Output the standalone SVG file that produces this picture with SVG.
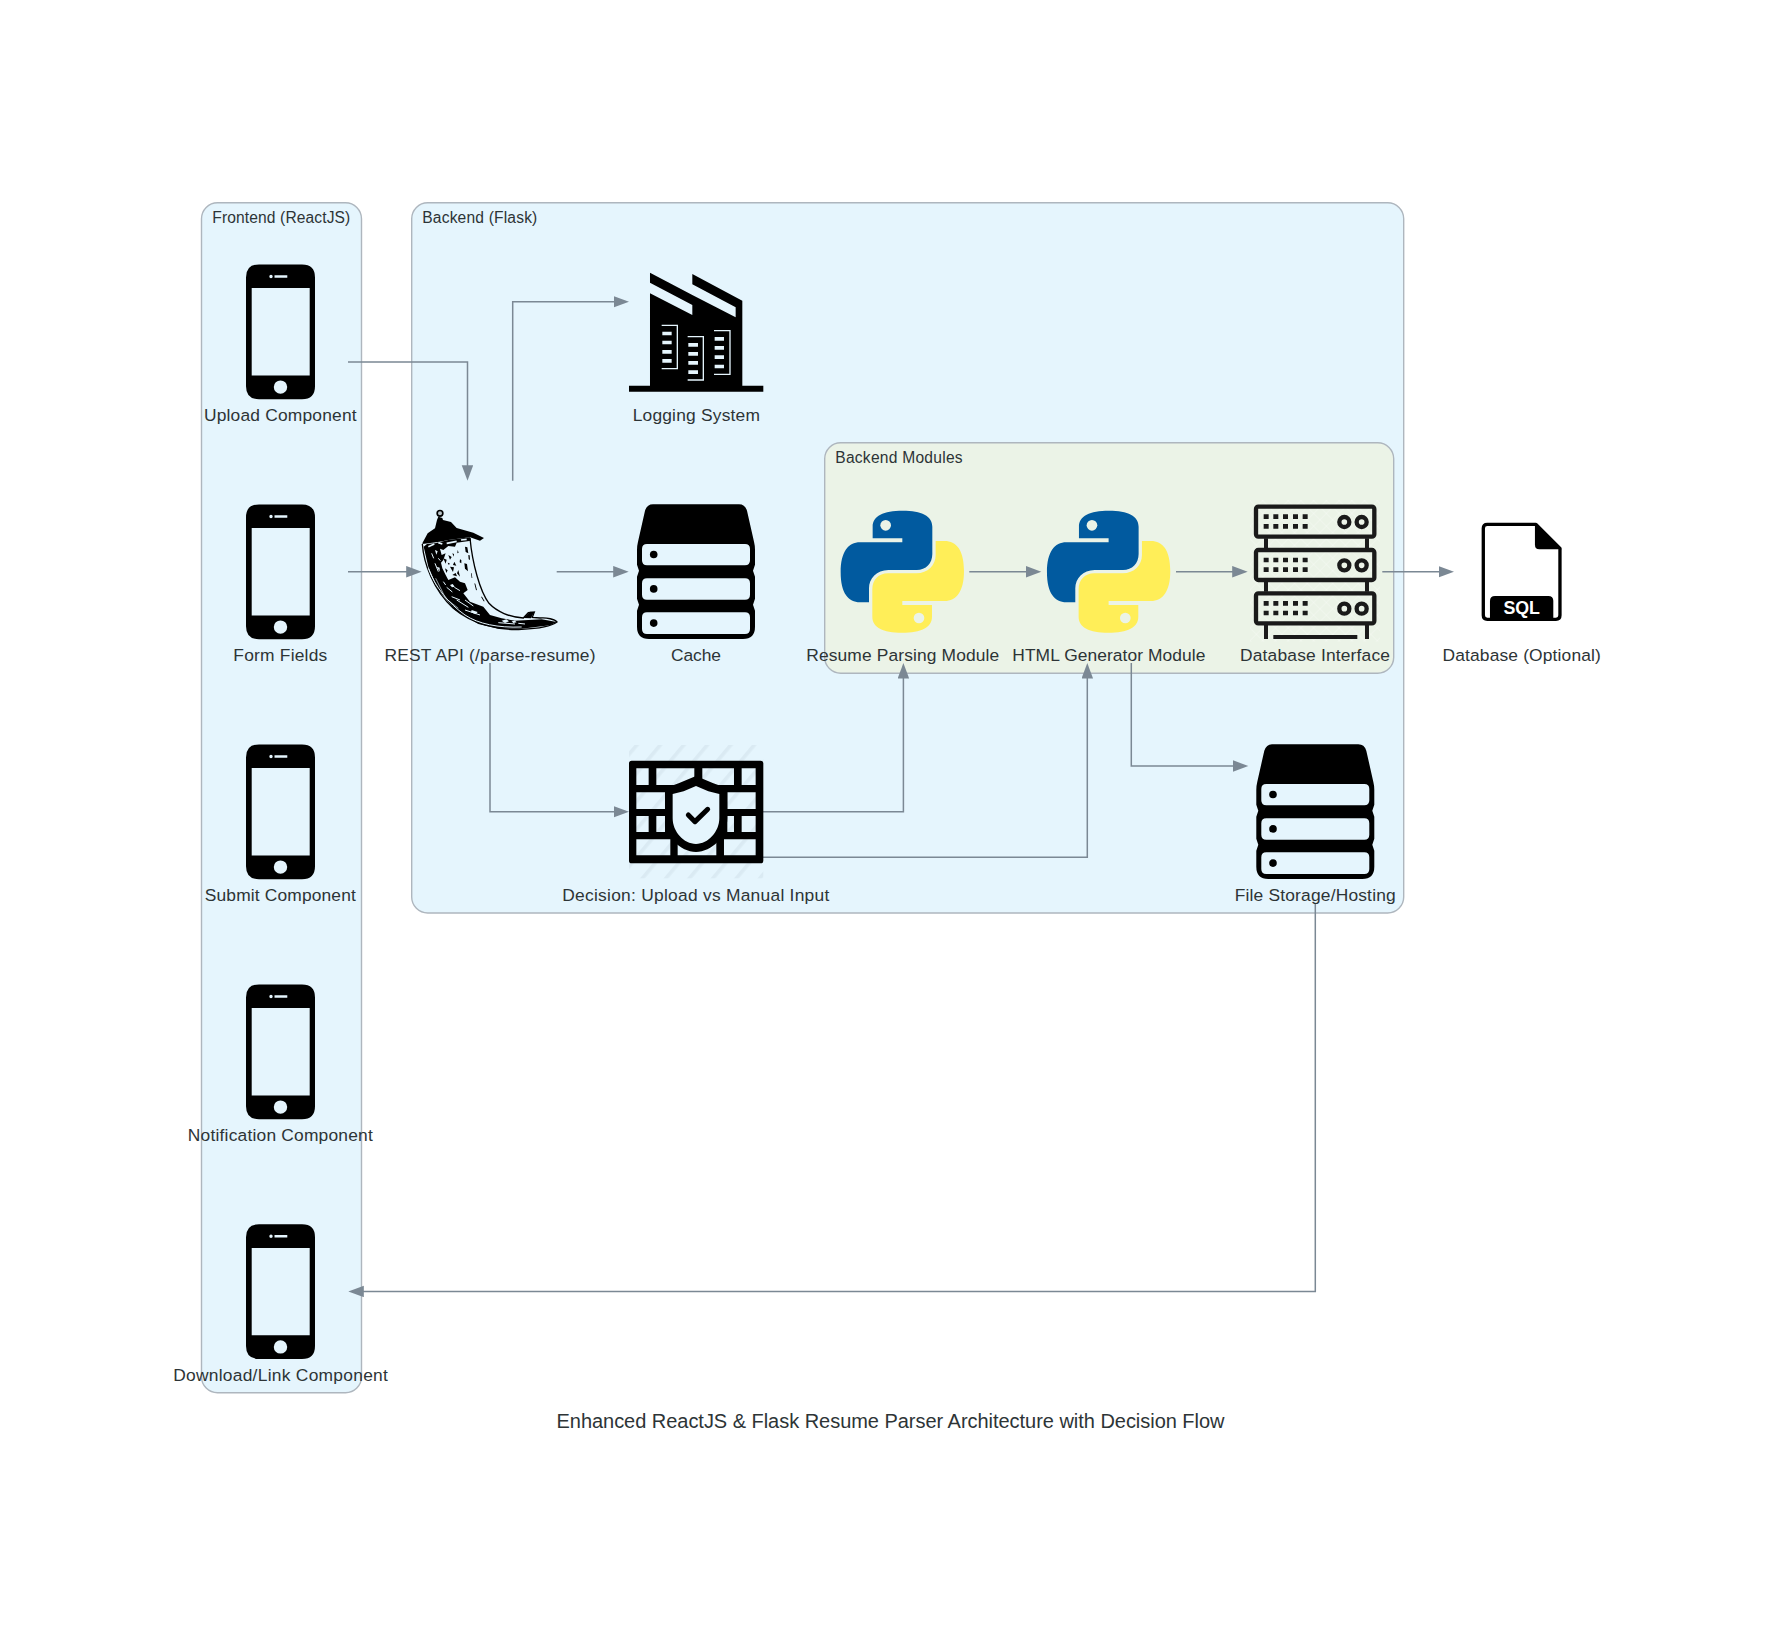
<svg xmlns="http://www.w3.org/2000/svg" width="1781" height="1628" viewBox="0 0 1781 1628">
<style>
text{font-family:"Liberation Sans",Arial,sans-serif;fill:#2d3436}
.lbl{font-size:17.4px;text-anchor:middle}
.cl{font-size:15.6px}
.title{font-size:20px;text-anchor:middle}
.cluster{stroke:#aeb6be;stroke-width:1.4}
.edge{fill:none;stroke:#7b8894;stroke-width:1.5;marker-end:url(#arr)}
.k{fill:#000}
.blue{fill:#015a9f}
.yel{fill:#ffee58}
.d{fill:#1a1a1a}
.rk{fill:none;stroke:#1a1a1a;stroke-width:13}
.fl{fill:#e5f5fd}
</style>
<defs>
<marker id="arr" markerUnits="userSpaceOnUse" markerWidth="17" markerHeight="12" refX="1.5" refY="5.75" orient="auto"><path d="M0,0L15.5,5.75L0,11.5Z" fill="#7b8894"/></marker>
<pattern id="hatch" patternUnits="userSpaceOnUse" width="54" height="54" patternTransform="rotate(40)"><rect width="11" height="54" fill="#c6d6de" opacity=".35"/></pattern>
<pattern id="cross" patternUnits="userSpaceOnUse" width="27" height="27" patternTransform="rotate(45)"><path d="M0,0H27M0,0V27" stroke="#fff" stroke-width="3" opacity=".45" fill="none"/></pattern>
<g id="phone"><path fill-rule="evenodd" class="k" d="M-21.5,-67.4H21.5Q34.5,-67.4 34.5,-54.4V54.4Q34.5,67.4 21.5,67.4H-21.5Q-34.5,67.4 -34.5,54.4V-54.4Q-34.5,-67.4 -21.5,-67.4ZM-28.8,-43.7V43.7H29.2V-43.7ZM-11.2,-55.3a1.7,1.7 0 1 0 3.4,0a1.7,1.7 0 1 0 -3.4,0ZM-6,-56.6V-54H6.8V-56.6ZM-6.7,55.3a6.7,6.7 0 1 0 13.4,0a6.7,6.7 0 1 0 -13.4,0Z"/></g>
<g id="stack"><path fill-rule="evenodd" class="k" d="M-43,-67.4H43Q49,-67.4 51,-61L58,-30Q59,-26 59,-22V-7L57,-1L59,5V27L57,33L59,39V55Q59,67.3 47,67.3H-47Q-59,67.3 -59,55V39L-57,33L-59,27V5L-57,-1L-59,-7V-22Q-59,-26 -58,-30L-51,-61Q-49,-67.4 -43,-67.4ZM-49,-27.7Q-54,-27.7 -54,-22.7V-11.4Q-54,-6.4 -49,-6.4H49Q54,-6.4 54,-11.4V-22.7Q54,-27.7 49,-27.7ZM-49,6.6Q-54,6.6 -54,11.6V23Q-54,28 -49,28H49Q54,28 54,23V11.6Q54,6.6 49,6.6ZM-49,40.6Q-54,40.6 -54,45.6V57.3Q-54,62.3 -49,62.3H49Q54,62.3 54,57.3V45.6Q54,40.6 49,40.6Z"/><circle class="k" cx="-42.3" cy="-17.2" r="3.8"/><circle class="k" cx="-42.3" cy="17.2" r="3.8"/><circle class="k" cx="-42.3" cy="51.4" r="3.8"/></g>
<g id="py"><path class="blue" d="M308,242C250,242 218,258 218,290V325H307V337H180C145,337 122,365 122,427C122,490 145,517 180,517H207V475C207,445 230,420 265,420H350C378,420 397,400 397,372V290C397,258 365,242 308,242Z"/><circle cx="257" cy="286" r="16" fill="#ebf3e7"/><path class="yel" transform="rotate(180 307 425)" d="M308,242C250,242 218,258 218,290V325H307V337H180C145,337 122,365 122,427C122,490 145,517 180,517H207V475C207,445 230,420 265,420H350C378,420 397,400 397,372V290C397,258 365,242 308,242Z"/><circle cx="357" cy="564" r="16" fill="#ebf3e7"/></g>
<g id="rack"><rect class="rk" x="18" y="20" width="355" height="90" rx="7"/><path class="d" d="M41,43h15v14h-15zM70,43h15v14h-15zM99,43h15v14h-15zM129,43h15v14h-15zM158,43h15v14h-15zM41,72h15v14h-15zM70,72h15v14h-15zM99,72h15v14h-15zM129,72h15v14h-15zM158,72h15v14h-15z"/><circle cx="283" cy="66" r="15" fill="none" stroke="#1a1a1a" stroke-width="13"/><circle cx="335" cy="66" r="15" fill="none" stroke="#1a1a1a" stroke-width="13"/></g>
</defs>
<rect width="1781" height="1628" fill="#fff"/>
<g id="cluster-frontend"><rect class="cluster" x="201.5" y="202.7" width="160" height="1190" rx="16" fill="#e5f5fd"/><text class="cl" x="212.3" y="222.5" textLength="138">Frontend (ReactJS)</text></g>
<g id="cluster-backend"><rect class="cluster" x="411.7" y="202.7" width="992" height="710.3" rx="16" fill="#e5f5fd"/><text class="cl" x="422.3" y="222.5" textLength="115">Backend (Flask)</text></g>
<g id="cluster-modules"><rect class="cluster" x="824.7" y="442.7" width="569" height="230.6" rx="16" fill="#ebf3e7"/><text class="cl" x="835.3" y="462.5" textLength="127.3">Backend Modules</text></g>
<g id="connectors">
<path class="edge" d="M348,362H467.5V466.7"/>
<path class="edge" d="M512.7,480.7V301.7H615"/>
<path class="edge" d="M348,571.7H407.7"/>
<path class="edge" d="M556.7,571.7H614.7"/>
<path class="edge" d="M490,663V811.7H615"/>
<path class="edge" d="M763,811.7H903.4V677"/>
<path class="edge" d="M763,857.3H1087.3V677"/>
<path class="edge" d="M969.3,571.7H1027.3"/>
<path class="edge" d="M1176,571.7H1233.7"/>
<path class="edge" d="M1382.3,571.7H1440"/>
<path class="edge" d="M1131.3,663V766H1234.3"/>
<path class="edge" d="M1315.3,903V1291.4H362.3"/>
</g>
<g id="node-upload"><use href="#phone" x="280.5" y="331.8"/><text class="lbl" x="280.3" y="420.6" textLength="152.7">Upload Component</text></g>
<g id="node-form"><use href="#phone" x="280.5" y="571.8"/><text class="lbl" x="280.3" y="660.6" textLength="94">Form Fields</text></g>
<g id="node-submit"><use href="#phone" x="280.5" y="811.8"/><text class="lbl" x="280.3" y="900.6" textLength="151">Submit Component</text></g>
<g id="node-notify"><use href="#phone" x="280.5" y="1051.8"/><text class="lbl" x="280.3" y="1140.6" textLength="185">Notification Component</text></g>
<g id="node-download"><use href="#phone" x="280.5" y="1291.6"/><text class="lbl" x="280.5" y="1380.6" textLength="214.7">Download/Link Component</text></g>
<g id="node-api">
<g transform="translate(415 500) scale(.3333)">
<path class="k" d="M66,60L70,50L82,54L84,60L108,66L125,84L175,98L207,114L195,122L165,112L100,120L45,132L28,144L22,130L38,100L60,85Z"/>
<circle cx="75" cy="40" r="8.5" fill="#b9c4c8" stroke="#000" stroke-width="5"/>
<path d="M22,132C26,190 55,270 115,325C170,372 250,392 320,388C370,386 410,378 426,366C420,358 395,352 375,354L352,352L358,336L340,338L325,354C285,352 245,335 222,310C195,275 172,190 165,114" class="fl" stroke="#000" stroke-width="4"/>
<path class="k" d="M26,140L36,132L60,130L100,120L165,112L168,122L125,128L120,140L100,138L85,150L75,146L80,165L92,160L85,180L78,188L82,205L92,225L100,240L120,232L135,245L150,250L158,270L145,280L165,305L205,320L225,345L260,355L300,362L380,358L425,366L405,376L320,386L250,386L190,372L120,330L70,270L40,200Z"/>
<path d="M40,205C60,260 100,310 150,345C190,372 250,384 320,381" fill="none" stroke="#e5f5fd" stroke-width="3"/>
<path d="M62,235L92,295L130,325" fill="none" stroke="#e5f5fd" stroke-width="2"/>
<path d="M40,140L58,132M70,128L82,132M95,130L125,124M138,120L155,118" fill="none" stroke="#e5f5fd" stroke-width="5"/>
<path d="M50,160L56,175M60,190L70,215M125,300L160,322M150,330L195,345M250,368L300,372M310,370L330,372M110,290L135,300M70,175L76,182M95,262L112,276M118,262L135,272M150,300L175,318M85,245L92,255" fill="none" stroke="#e5f5fd" stroke-width="3"/>
<path class="fl" d="M260,362l14,-4l8,6l-12,5zM290,364l10,-2l5,5l-10,2zM170,330l18,6l-6,7l-14,-6zM60,150l8,4l-4,10zM65,200l9,3l0,12zM105,255l8,-3l6,8l-8,2z"/>
<path class="k" d="M100,165l5,14l5,-8zM85,175l10,4l-3,12zM118,185l6,12l-10,-2zM105,200l12,2l-3,14zM90,205l8,6l-4,8zM130,210l5,20l-9,-10zM150,140l7,2l3,18l-8,-4zM148,190l8,2l3,22l-9,-8zM128,150l3,8l-4,2zM160,165l4,1l1,14l-4,-2zM112,225l10,-6l4,10zM178,250l3,1l5,20l-3,-1zM198,290l3,0l8,14l-3,0zM168,220l2,0l2,14l-2,0zM112,160l5,2l-1,8zM135,178l4,2l0,10l-5,-3zM98,188l6,2l-2,6z"/>
<path class="k" d="M325,354L345,335L358,336L348,355Z"/>
</g>
<text class="lbl" x="490" y="660.6" textLength="211">REST API (/parse-resume)</text></g>
<g id="node-logging">
<g transform="translate(600 250) scale(.3333)"><path class="k" d="M150,68L277,135V72L427,152V407H490V425H87V407H150V130L277,195V165L150,98ZM277,103V135L407,202V172Z" fill-rule="evenodd"/>
<path fill="#e5f5fd" d="M187,245h28v11h-28zM187,272h28v11h-28zM187,300h28v11h-28zM187,327h28v11h-28zM265,279h29v11h-29zM265,306h29v11h-29zM265,333h29v11h-29zM265,361h29v11h-29zM344,261h28v11h-28zM344,288h28v11h-28zM344,316h28v11h-28zM344,344h28v11h-28z"/>
<path fill="none" stroke="#e5f5fd" stroke-width="4" d="M185,226H232V356H185M263,260H310V390H263M342,242H390V373H342"/></g>
<text class="lbl" x="696.3" y="420.6" textLength="127.3">Logging System</text></g>
<g id="node-cache"><use href="#stack" x="696" y="571.7"/><text class="lbl" x="696" y="660.6" textLength="50">Cache</text></g>
<g id="node-decision">
<g transform="translate(600 730) scale(.3333)"><rect x="87" y="45" width="403" height="400" fill="url(#hatch)"/>
<path class="k" fill-rule="evenodd" d="M95,92H482Q490,92 490,100V392Q490,400 482,400H95Q87,400 87,392V100Q87,92 95,92ZM109,115V165H146V115ZM169,115V165H283V115ZM307,115V165H402V115ZM425,115V165H467V115ZM109,187V237H195V187ZM382,187V237H467V187ZM109,258V306H146V258ZM169,258V306H195V258ZM382,258V306H402V258ZM425,258V306H467V258ZM109,328V376H211V328ZM233,328V376H349V328ZM372,328V376H467V328Z"/>
<path class="k" d="M288,138L340,160L382,175V265C382,320 335,366 288,366C241,366 195,320 195,265V175L236,160Z"/>
<path fill="#e5f5fd" d="M288,168L325,184L358,192V265C358,305 325,342 288,342C251,342 218,305 218,265V192L251,184Z"/>
<path d="M265,255L285,275L323,238" fill="none" stroke="#000" stroke-width="15" stroke-linecap="round" stroke-linejoin="round"/></g>
<text class="lbl" x="695.8" y="900.6" textLength="267">Decision: Upload vs Manual Input</text></g>
<g id="node-resume"><use href="#py" transform="translate(800 430) scale(.3333)"/><text class="lbl" x="902.7" y="660.6" textLength="193">Resume Parsing Module</text></g>
<g id="node-html"><use href="#py" transform="translate(1006.3 430) scale(.3333)"/><text class="lbl" x="1108.8" y="660.6" textLength="193">HTML Generator Module</text></g>
<g id="node-dbiface">
<g transform="translate(1250 500) scale(.3333)"><rect x="0" y="0" width="390" height="425" fill="url(#cross)"/>
<use href="#rack"/><use href="#rack" y="130"/><use href="#rack" y="260"/>
<path class="d" d="M42,115h12v30h-12zM345,115h12v30h-12zM42,245h12v30h-12zM345,245h12v30h-12zM42,375h12v42h-12zM345,375h12v42h-12zM70,405h252v12h-252z"/></g>
<text class="lbl" x="1315" y="660.6" textLength="150">Database Interface</text></g>
<g id="node-database">
<g transform="translate(1200 490) scale(.3333)"><path fill="#fff" stroke="#000" stroke-width="10" stroke-linejoin="round" d="M862,103H1008L1080,175V376Q1080,388 1068,388H862Q850,388 850,376V115Q850,103 862,103Z"/>
<path class="k" d="M1005,103L1085,178H1018Q1005,178 1005,165Z"/>
<path class="k" d="M885,318H1045Q1060,318 1060,333V388H870V333Q870,318 885,318Z"/></g>
<text x="1521.7" y="614" text-anchor="middle" style="font-size:17.8px;font-weight:bold;fill:#fff">SQL</text>
<text class="lbl" x="1521.7" y="660.6" textLength="158.3">Database (Optional)</text></g>
<g id="node-files"><use href="#stack" x="1315.3" y="811.7"/><text class="lbl" x="1315.2" y="900.6" textLength="161">File Storage/Hosting</text></g>
<text class="title" x="890.5" y="1427.5" textLength="668">Enhanced ReactJS &amp; Flask Resume Parser Architecture with Decision Flow</text>
</svg>
